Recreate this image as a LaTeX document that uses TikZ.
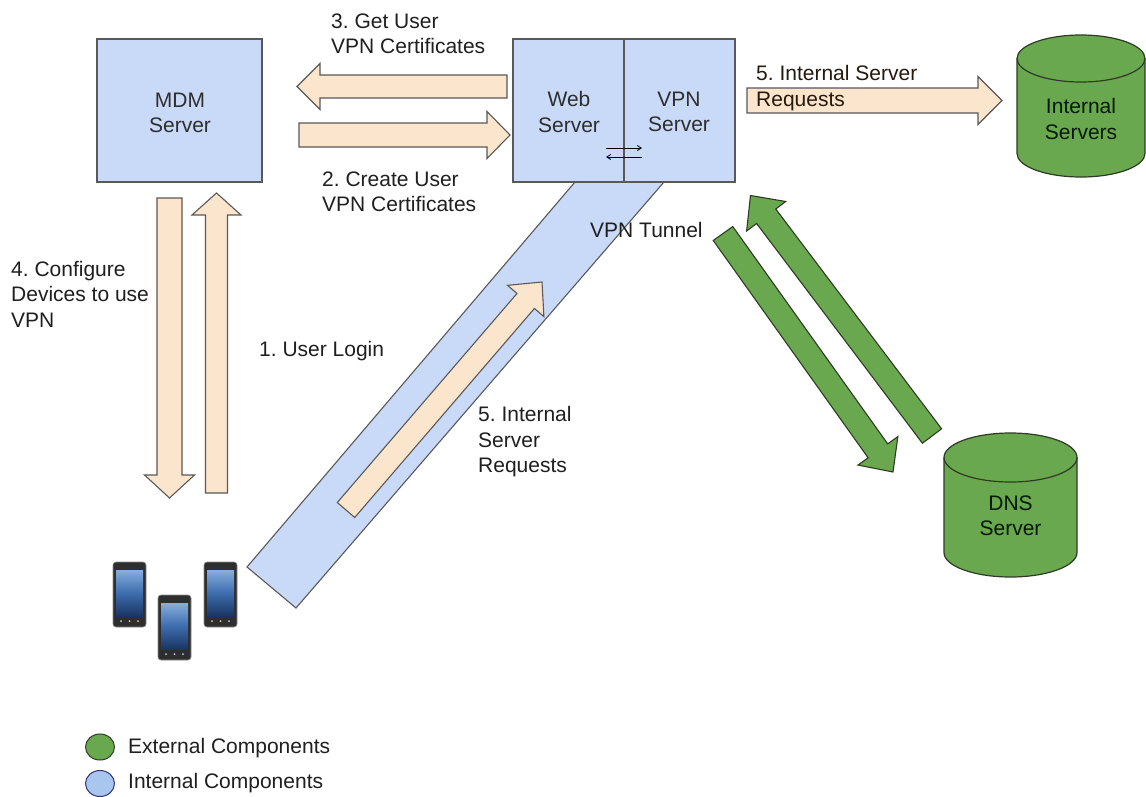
\documentclass[tikz,border=0pt]{standalone}
\usepackage{fontspec}
\setmainfont{Liberation Sans}
\usetikzlibrary{calc,arrows.meta}
\definecolor{boxblue}{HTML}{C9DAF8}
\definecolor{legblue}{HTML}{A9C6EE}
\definecolor{peach}{HTML}{FCE5CD}
\definecolor{gr}{HTML}{6AA84F}
\definecolor{edge}{HTML}{595959}
\definecolor{gedge}{HTML}{2E3B24}
\definecolor{scrtop}{HTML}{86AEDD}
\definecolor{scrmid}{HTML}{3E6DAE}
\definecolor{scrbot}{HTML}{1A3563}
\frenchspacing
\tikzset{
  box/.style={draw=edge, fill=boxblue, line width=1.2pt},
  pa/.style={draw=edge, fill=peach, line width=1.1pt, line join=miter},
  ga/.style={draw=gedge, fill=gr, line width=1.1pt, line join=miter},
  cyl/.style={draw=gedge, fill=gr, line width=1.2pt},
  lbl/.style={inner sep=0pt, align=left, anchor=west, font=\fontsize{21}{25.5}\selectfont, text=black!88},
  ctr/.style={inner sep=0pt, align=center, font=\fontsize{21}{25.5}\selectfont, text=black!82},
  thin arrow/.style={line width=0.8pt, -{Straight Barb[length=4pt,width=5pt]}},
  phonebody/.style={fill=black!82, draw=black!45, line width=0.6pt, rounded corners=3pt},
  screen/.style={top color=scrtop, bottom color=scrbot, middle color=scrmid}
}
% #1 style, #2 tail, #3 tip, #4 shaft half width, #5 head half width, #6 head length
\newcommand\blockarr[6]{%
  \coordinate (bh) at ($(#3)!#6!(#2)$);
  \draw[#1] ($(#2)!#4!90:(#3)$) -- ($(bh)!#4!90:(#3)$) -- ($(bh)!#5!90:(#3)$) -- (#3)
    -- ($(bh)!#5!-90:(#3)$) -- ($(bh)!#4!-90:(#3)$) -- ($(#2)!#4!-90:(#3)$) -- cycle;
}
\begin{document}
\begin{tikzpicture}[x=1pt,y=-1pt]
\useasboundingbox (0,0) rectangle (1146,796);
\fill[white] (0,0) rectangle (1146,796);

% VPN tunnel
\draw[box, line width=1.1pt] (575,182) -- (664,182) -- (296,608) -- (247,567) -- cycle;
\node[lbl] (tunnel) at (590,230) {VPN Tunnel};

% MDM server
\draw[box] (97,39) rectangle (262,182);
\node[ctr] (mdm) at (180,113) {MDM\\Server};

% Web / VPN server
\draw[box] (513,39) rectangle (735,182);
\draw[edge, line width=1.1pt] (624,39) -- (624,182);
\node[ctr] (web) at (569,112) {Web\\Server};
\node[ctr] (vpn) at (679,112) {VPN\\Server};
\coordinate (s1) at (606,148); \coordinate (s2) at (642,148);
\coordinate (s3) at (642,157); \coordinate (s4) at (606,157);
\draw[thin arrow] (s1) -- (s2);
\draw[thin arrow] (s3) -- (s4);

% arrows between MDM and Web
\coordinate (gT) at (507,86.5); \coordinate (gP) at (297,86.5);
\blockarr{pa}{gT}{gP}{11.5pt}{23pt}{23pt}
\coordinate (cT) at (299,135); \coordinate (cP) at (510,135);
\blockarr{pa}{cT}{cP}{12pt}{23.5pt}{23pt}
\node[lbl] (l3) at (331,34) {3. Get User\\VPN Certificates};
\node[lbl] (l2) at (322,192) {2. Create User\\VPN Certificates};

% vertical arrows MDM <-> devices
\coordinate (dT) at (169.5,198); \coordinate (dP) at (169.5,498);
\blockarr{pa}{dT}{dP}{12.5pt}{25pt}{23pt}
\coordinate (uT) at (216.5,493); \coordinate (uP) at (216.5,193);
\blockarr{pa}{uT}{uP}{11pt}{24.5pt}{22pt}
\node[lbl] (l4) at (11,294) {4. Configure\\Devices to use\\VPN};
\node[lbl] (l1) at (259,351) {1. User Login};

% arrow inside tunnel
\coordinate (tT) at (346,510); \coordinate (tP) at (542,282);
\blockarr{pa}{tT}{tP}{11.5pt}{24pt}{25pt}
\node[lbl] (l5a) at (478,442) {5. Internal\\Server\\Requests};

% Internal server requests arrow
\coordinate (iT) at (747,100.5); \coordinate (iP) at (1002,100.5);
\blockarr{pa}{iT}{iP}{12.5pt}{24pt}{24pt}
\node[lbl, text=black!80!brown] (l5b) at (756,88) {5. Internal Server\\Requests};

% Internal Servers cylinder
\draw[cyl] (1017,58.5) -- (1017,153.5) arc[start angle=180,end angle=360,x radius=64pt,y radius=23.5pt]
  -- (1145,58.5) arc[start angle=0,end angle=180,x radius=64pt,y radius=23.5pt] -- cycle;
\draw[cyl, fill=none] (1017,58.5) arc[start angle=180,end angle=360,x radius=64pt,y radius=23.5pt];
\node[ctr, text=black!90!green] (isrv) at (1081,119) {Internal\\Servers};

% DNS cylinder
\draw[cyl] (944,457.5) -- (944,552.5) arc[start angle=180,end angle=360,x radius=66.5pt,y radius=24.5pt]
  -- (1077,457.5) arc[start angle=0,end angle=180,x radius=66.5pt,y radius=24.5pt] -- cycle;
\draw[cyl, fill=none] (944,457.5) arc[start angle=180,end angle=360,x radius=66.5pt,y radius=24.5pt];
\node[ctr, text=black!90!green] (dns) at (1010.5,516) {DNS\\Server};

% green arrows
\coordinate (g1T) at (723,233.5); \coordinate (g1P) at (893,472);
\blockarr{ga}{g1T}{g1P}{12pt}{24.5pt}{26pt}
\coordinate (g2T) at (932,436); \coordinate (g2P) at (750.5,195.5);
\blockarr{ga}{g2T}{g2P}{12pt}{24.5pt}{26pt}

% phones
\foreach \nm/\x/\y in {ph1/113/562, ph2/158/595, ph3/204/562}{
  \draw[phonebody] (\x,\y) rectangle ++(33,65);
  \shade[screen] (\x+3,\y+8) rectangle ++(27,46);
  \fill[white!60!gray] (\x+8,\y+59) circle[radius=1pt] (\x+16.5,\y+59) circle[radius=1pt] (\x+25,\y+59) circle[radius=1pt];
  \coordinate (\nm) at (\x+16.5,\y+32);
}

% legend
\draw[draw=gedge, fill=gr, line width=1pt] (100,747) ellipse[x radius=14.5pt, y radius=13pt];
\draw[draw=black!60!blue!60!gray, fill=legblue, line width=1pt] (100,783.5) ellipse[x radius=14.5pt, y radius=13pt];
\node[lbl] (lext) at (128,748) {External Components};
\node[lbl] (lint) at (128,783) {Internal Components};
\end{tikzpicture}
\end{document}
